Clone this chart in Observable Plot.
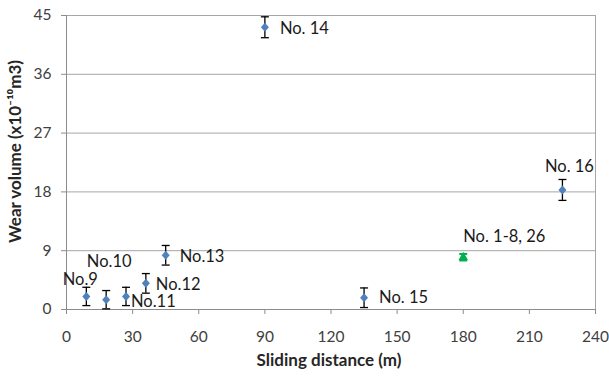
<!DOCTYPE html>
<html>
<head>
<meta charset="utf-8">
<script src="https://cdn.jsdelivr.net/npm/d3@7"></script>
<script src="https://cdn.jsdelivr.net/npm/@observablehq/plot@0.6"></script>
<style>
  html, body { margin: 0; padding: 0; background: #fff; }
</style>
</head>
<body>
<div id="chart"></div>
<script>
// ---- data ----
const sampleIds   = ["No.9", "No.10", "No.11", "No.12", "No.13", "No. 14", "No. 15", "No. 16"];
const distance    = [9, 18, 27, 36, 45, 90, 135, 225];          // m
const wearVolume  = [2.0, 1.5, 2.0, 4.0, 8.3, 43.2, 1.8, 18.3]; // x10^-10 m3
const errorHalf   = [1.4, 1.4, 1.4, 1.5, 1.5, 1.6, 1.5, 1.6];

const groupId       = ["No. 1-8, 26"];
const groupDistance = [180];
const groupVolume   = [8.0];
const groupError    = [0.5];

const xTicks = [0, 30, 60, 90, 120, 150, 180, 210, 240];
const yTicks = [0, 9, 18, 27, 36, 45];

// ---- label placement (layout only) ----
const labelLayout = {
  "No.9":   {dx: -6,  dy: -17, anchor: "middle"},
  "No.10":  {dx: 3,   dy: -38, anchor: "middle"},
  "No.11":  {dx: 5,   dy: 5,   anchor: "start"},
  "No.12":  {dx: 10,  dy: 1,   anchor: "start"},
  "No.13":  {dx: 14,  dy: 1,   anchor: "start"},
  "No. 14": {dx: 15,  dy: 1,   anchor: "start"},
  "No. 15": {dx: 15,  dy: 0,   anchor: "start"},
  "No. 16": {dx: 7,   dy: -23, anchor: "middle"},
  "No. 1-8, 26": {dx: 0, dy: -21, anchor: "start"}
};

const points = sampleIds.map((id, i) => ({id, x: distance[i], y: wearVolume[i], e: errorHalf[i]}));
const group = groupId.map((id, i) => ({id, x: groupDistance[i], y: groupVolume[i], e: groupError[i]}));

const cap = {draw(ctx) { ctx.moveTo(-4, 0); ctx.lineTo(4, 0); }};
const diamond = {draw(ctx) { ctx.moveTo(0, -4.5); ctx.lineTo(4, 0); ctx.lineTo(0, 4.5); ctx.lineTo(-4, 0); ctx.closePath(); }};

const blue = "#4f81bd";
const green = "#00b050";
const axisGray = "#8c8c8c";

const labelMarks = [...points, ...group].map(d => {
  const L = labelLayout[d.id];
  return Plot.text([d], {x: "x", y: "y", text: "id", dx: L.dx, dy: L.dy, textAnchor: L.anchor,
    fill: "#1a1a1a", fontSize: 16.5});
});

const chart = Plot.plot({
  width: 609,
  height: 376,
  marginLeft: 66,
  marginRight: 14,
  marginTop: 15,
  marginBottom: 67,
  style: {fontFamily: "Lato, 'Noto Sans', sans-serif", fontSize: "15px", background: "#fff", overflow: "visible"},
  x: {domain: [0, 240]},
  y: {domain: [0, 45]},
  marks: [
    Plot.gridY(yTicks, {stroke: "#a6a6a6", strokeOpacity: 1}),
    Plot.ruleX([240], {stroke: "#a6a6a6"}),
    Plot.ruleX([0], {stroke: axisGray}),
    Plot.ruleY([0], {stroke: axisGray}),
    Plot.axisX({ticks: xTicks, tickSize: 5, tickPadding: 16, stroke: axisGray, fill: "#404040", fontSize: 15.5, label: null}),
    Plot.axisY({ticks: yTicks, tickSize: 5, tickPadding: 10, stroke: axisGray, fill: "#404040", fontSize: 15.5, label: null}),
    Plot.text(["Sliding distance (m)"], {frameAnchor: "bottom", dy: 51, dx: -2, textAnchor: "middle", fontWeight: "bold", fontSize: 17, fill: "#262626", lineAnchor: "middle"}),
    Plot.text(["Wear volume (x10\u207B\u00B9\u2070m3)"], {frameAnchor: "left", dx: -51, dy: -11, rotate: -90, textAnchor: "middle", fontWeight: "bold", fontSize: 17, fill: "#262626", lineAnchor: "middle"}),
    // error bars
    Plot.ruleX(points, {x: "x", y1: d => d.y - d.e, y2: d => d.y + d.e, stroke: "black", strokeWidth: 1.3}),
    Plot.dot(points, {x: "x", y: d => d.y - d.e, symbol: cap, stroke: "black", fill: "none", strokeWidth: 1.3}),
    Plot.dot(points, {x: "x", y: d => d.y + d.e, symbol: cap, stroke: "black", fill: "none", strokeWidth: 1.3}),
    Plot.dot(points, {x: "x", y: "y", symbol: diamond, fill: blue, stroke: "none"}),
    // group point
    Plot.ruleX(group, {x: "x", y1: d => d.y - d.e, y2: d => d.y + d.e, stroke: green, strokeWidth: 1.3}),
    Plot.dot(group, {x: "x", y: d => d.y - d.e, symbol: cap, stroke: green, fill: "none", strokeWidth: 2}),
    Plot.dot(group, {x: "x", y: d => d.y + d.e, symbol: cap, stroke: green, fill: "none", strokeWidth: 2}),
    Plot.dot(group, {x: "x", y: "y", symbol: "triangle", r: 3.5, fill: green, stroke: "none"}),
    ...labelMarks
  ]
});

document.getElementById("chart").appendChild(chart);
</script>
</body>
</html>
